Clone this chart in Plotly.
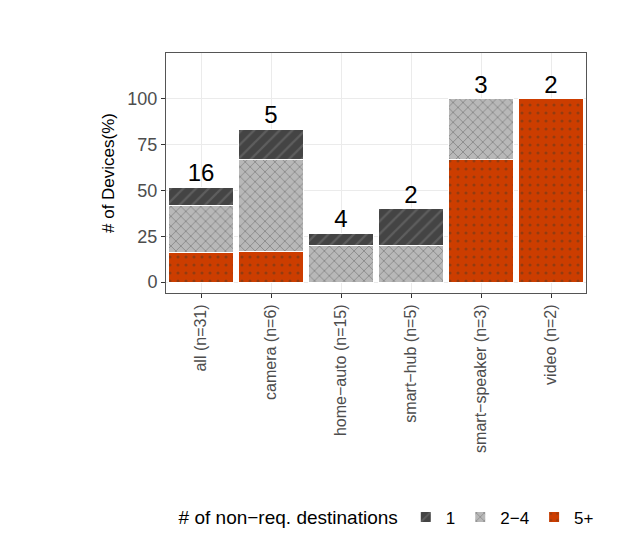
import plotly.graph_objects as go

categories = ["all (n=31)", "camera (n=6)", "home\u2212auto (n=15)", "smart\u2212hub (n=5)",
              "smart\u2212speaker (n=3)", "video (n=2)"]
pct_5plus = [16.1, 16.7, 0, 0, 66.7, 100]
pct_2to4 = [25.8, 50.0, 20.0, 20.0, 33.3, 0]
pct_1 = [9.7, 16.7, 6.7, 20.0, 0, 0]
device_counts = [16, 5, 4, 2, 3, 2]

fig = go.Figure()
fig.add_trace(go.Bar(x=categories, y=pct_5plus, name="5+",
                     marker=dict(color="#cc3d00", line=dict(color="white", width=1),
                                 pattern=dict(shape=".", fgcolor="#5a3a20", size=8, solidity=0.12))))
fig.add_trace(go.Bar(x=categories, y=pct_2to4, name="2\u22124",
                     marker=dict(color="#b8b8b8", line=dict(color="white", width=1),
                                 pattern=dict(shape="x", fgcolor="#444444", size=7, solidity=0.2))))
fig.add_trace(go.Bar(x=categories, y=pct_1, name="1",
                     marker=dict(color="#444444", line=dict(color="white", width=1),
                                 pattern=dict(shape="/", fgcolor="#777777", size=9, solidity=0.25))))

totals = [a + b + c for a, b, c in zip(pct_5plus, pct_2to4, pct_1)]
fig.add_trace(go.Scatter(x=categories, y=totals, mode="text", text=[str(c) for c in device_counts],
                         textposition="top center", textfont=dict(size=24, color="black"),
                         showlegend=False, hoverinfo="skip"))

fig.update_layout(
    barmode="stack", bargap=0.06,
    width=636, height=540,
    paper_bgcolor="white", plot_bgcolor="white",
    font=dict(family="Liberation Sans, Arial", size=16, color="#4d4d4d"),
    margin=dict(l=158, r=58, t=45, b=250),
    legend=dict(orientation="h", x=1.03, xanchor="right", y=-0.86, yanchor="top",
                traceorder="reversed", itemsizing="constant",
                title=dict(text="# of non\u2212req. destinations", font=dict(size=19, color="black")),
                font=dict(size=17, color="black")),
)
fig.update_xaxes(showline=True, linecolor="#555555", mirror=True, gridcolor="#ebebeb",
                 tickangle=-90, ticks="outside", tickcolor="#333333", ticklen=4, automargin=False,
                 tickfont=dict(size=16, color="#4d4d4d"))
fig.update_yaxes(range=[-6, 125], tickvals=[0, 25, 50, 75, 100], showline=True,
                 linecolor="#555555", mirror=True, gridcolor="#ebebeb", zeroline=False,
                 ticks="outside", tickcolor="#333333", ticklen=4, automargin=False,
                 tickfont=dict(size=18, color="#4d4d4d"),
                 title=dict(text="# of Devices(%)", font=dict(size=17, color="black"), standoff=8))

fig.write_html("out.html")
